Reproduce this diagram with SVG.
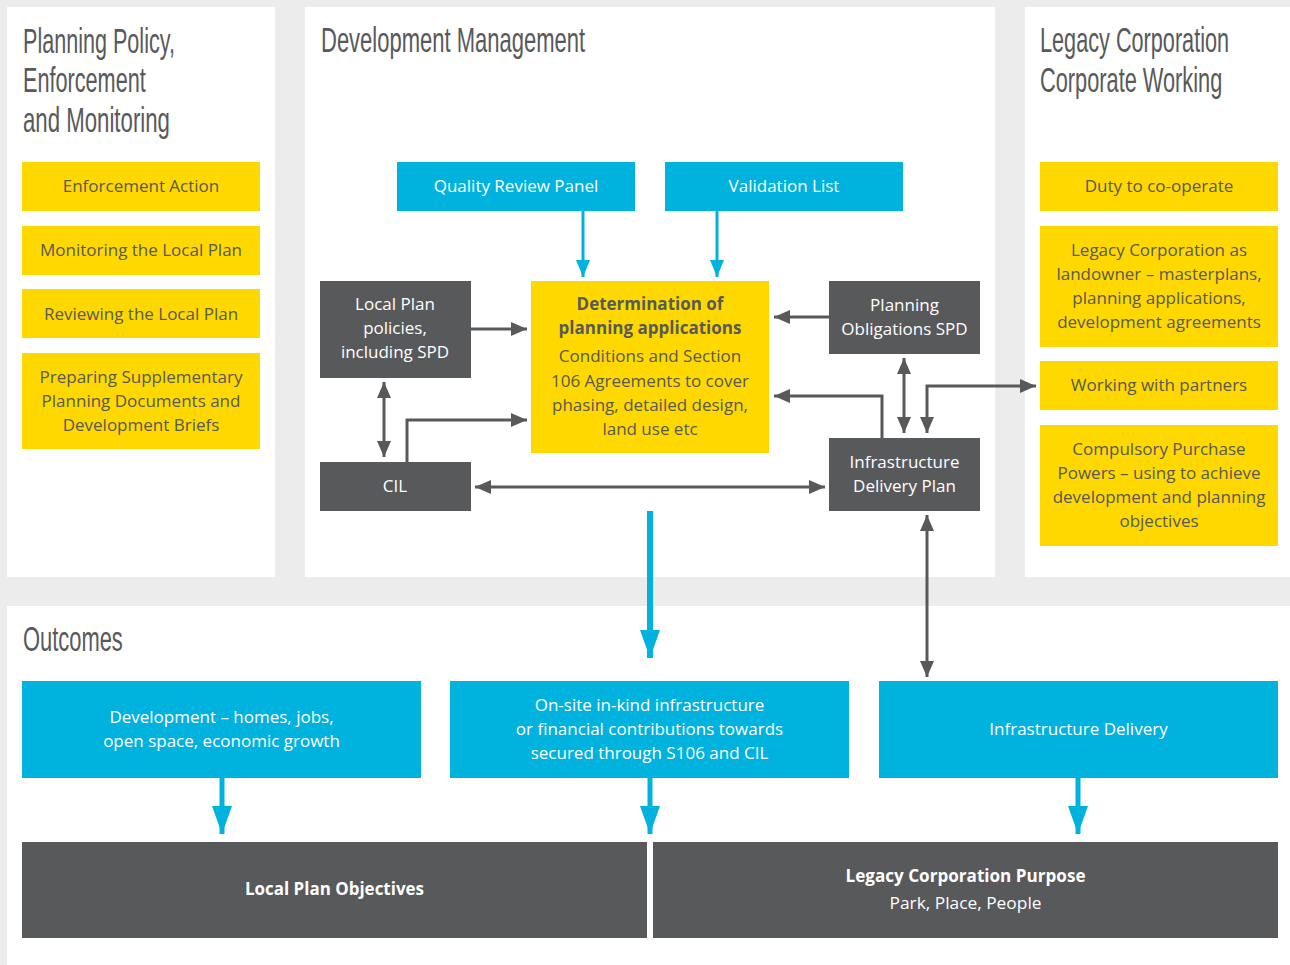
<svg xmlns="http://www.w3.org/2000/svg" width="1290" height="965" viewBox="0 0 1290 965">
<style>
.bg{fill:#ececec}
.panel{fill:#ffffff}
.y{fill:#ffd800}
.c{fill:#00b2de}
.d{fill:#58595b}
.h{font-family:"Liberation Sans",Arial,sans-serif;font-size:35px;fill:#58595b}
.t{font-family:"Open Sans","Noto Sans",sans-serif;font-size:17px;text-anchor:middle}
.ty{fill:#58595b}
.tw{fill:#ffffff}
.b{font-weight:bold}
.ld{fill:none;stroke:#58595b;stroke-width:3}
.lc{fill:none;stroke:#00b2de;stroke-width:3}
</style>
<defs>
<marker id="ah" viewBox="0 0 16 14" refX="16" refY="7" markerWidth="16" markerHeight="14" markerUnits="userSpaceOnUse" orient="auto-start-reverse"><path d="M0,0 L16,7 L0,14 Z" fill="#58595b"/></marker>
<marker id="ahc" viewBox="0 0 17 14" refX="17" refY="7" markerWidth="17" markerHeight="14" markerUnits="userSpaceOnUse" orient="auto"><path d="M0,0 L17,7 L0,14 Z" fill="#00b2de"/></marker>
<marker id="ahcb" viewBox="0 0 28 20" refX="28" refY="10" markerWidth="28" markerHeight="20" markerUnits="userSpaceOnUse" orient="auto"><path d="M0,0 L28,10 L0,20 Z" fill="#00b2de"/></marker>
</defs>
<rect class="bg" x="0" y="0" width="1290" height="965"/>
<g id="panels">
<rect class="panel" x="7" y="7" width="268" height="570"/>
<rect class="panel" x="305" y="7" width="690" height="570"/>
<rect class="panel" x="1025" y="7" width="265" height="570"/>
<rect class="panel" x="7" y="606" width="1283" height="359"/>
</g>
<g id="headings">
<text class="h" transform="translate(23,53) scale(0.62,1)" x="0" y="0" textLength="245" lengthAdjust="spacingAndGlyphs">Planning Policy,</text>
<text class="h" transform="translate(23,92) scale(0.62,1)" x="0" y="0" textLength="198" lengthAdjust="spacingAndGlyphs">Enforcement</text>
<text class="h" transform="translate(23,132) scale(0.62,1)" x="0" y="0" textLength="237" lengthAdjust="spacingAndGlyphs">and Monitoring</text>
<text class="h" transform="translate(321,52) scale(0.62,1)" x="0" y="0" textLength="426" lengthAdjust="spacingAndGlyphs">Development Management</text>
<text class="h" transform="translate(1040,52) scale(0.62,1)" x="0" y="0" textLength="305" lengthAdjust="spacingAndGlyphs">Legacy Corporation</text>
<text class="h" transform="translate(1040,92) scale(0.62,1)" x="0" y="0" textLength="294" lengthAdjust="spacingAndGlyphs">Corporate Working</text>
<text class="h" transform="translate(23,651) scale(0.62,1)" x="0" y="0" textLength="161" lengthAdjust="spacingAndGlyphs">Outcomes</text>
</g>
<g id="n-enforcement"><rect class="y" x="22" y="162" width="238" height="49"/><text class="t ty" x="141" y="192">Enforcement Action</text></g>
<g id="n-monitoring"><rect class="y" x="22" y="226" width="238" height="49"/><text class="t ty" x="141" y="256">Monitoring the Local Plan</text></g>
<g id="n-reviewing"><rect class="y" x="22" y="289" width="238" height="49"/><text class="t ty" x="141" y="320">Reviewing the Local Plan</text></g>
<g id="n-preparing"><rect class="y" x="22" y="353" width="238" height="96"/><text class="t ty" x="141" y="383">Preparing Supplementary</text><text class="t ty" x="141" y="407">Planning Documents and</text><text class="t ty" x="141" y="431">Development Briefs</text></g>
<g id="n-qrp"><rect class="c" x="397" y="162" width="238" height="49"/><text class="t tw" x="516" y="192">Quality Review Panel</text></g>
<g id="n-validation"><rect class="c" x="665" y="162" width="238" height="49"/><text class="t tw" x="784" y="192">Validation List</text></g>
<g id="n-localplan"><rect class="d" x="320" y="281" width="151" height="97"/><text class="t tw" x="395" y="310">Local Plan</text><text class="t tw" x="395" y="334">policies,</text><text class="t tw" x="395" y="358">including SPD</text></g>
<g id="n-determination"><rect class="y" x="531" y="281" width="238" height="172"/><text class="t ty b" x="650" y="310">Determination of</text><text class="t ty b" x="650" y="334">planning applications</text><text class="t ty" x="650" y="362">Conditions and Section</text><text class="t ty" x="650" y="387">106 Agreements to cover</text><text class="t ty" x="650" y="411">phasing, detailed design,</text><text class="t ty" x="650" y="435">land use etc</text></g>
<g id="n-obligations"><rect class="d" x="829" y="281" width="151" height="73"/><text class="t tw" x="904.5" y="311">Planning</text><text class="t tw" x="904.5" y="335">Obligations SPD</text></g>
<g id="n-cil"><rect class="d" x="320" y="462" width="151" height="49"/><text class="t tw" x="395" y="492">CIL</text></g>
<g id="n-idp"><rect class="d" x="829" y="438" width="151" height="73"/><text class="t tw" x="904.5" y="468">Infrastructure</text><text class="t tw" x="904.5" y="492">Delivery Plan</text></g>
<g id="n-duty"><rect class="y" x="1040" y="162" width="238" height="49"/><text class="t ty" x="1159" y="192">Duty to co-operate</text></g>
<g id="n-landowner"><rect class="y" x="1040" y="226" width="238" height="121"/><text class="t ty" x="1159" y="256">Legacy Corporation as</text><text class="t ty" x="1159" y="280">landowner – masterplans,</text><text class="t ty" x="1159" y="304">planning applications,</text><text class="t ty" x="1159" y="328">development agreements</text></g>
<g id="n-partners"><rect class="y" x="1040" y="361" width="238" height="49"/><text class="t ty" x="1159" y="391">Working with partners</text></g>
<g id="n-cpo"><rect class="y" x="1040" y="425" width="238" height="121"/><text class="t ty" x="1159" y="455">Compulsory Purchase</text><text class="t ty" x="1159" y="479">Powers – using to achieve</text><text class="t ty" x="1159" y="503">development and planning</text><text class="t ty" x="1159" y="527">objectives</text></g>
<g id="n-development"><rect class="c" x="22" y="681" width="399" height="97"/><text class="t tw" x="221.5" y="723">Development – homes, jobs,</text><text class="t tw" x="221.5" y="747">open space, economic growth</text></g>
<g id="n-onsite"><rect class="c" x="450" y="681" width="399" height="97"/><text class="t tw" x="649.5" y="711">On-site in-kind infrastructure</text><text class="t tw" x="649.5" y="735">or financial contributions towards</text><text class="t tw" x="649.5" y="759">secured through S106 and CIL</text></g>
<g id="n-infdelivery"><rect class="c" x="879" y="681" width="399" height="97"/><text class="t tw" x="1078.5" y="735">Infrastructure Delivery</text></g>
<g id="n-lpobjectives"><rect class="d" x="22" y="842" width="625" height="96"/><text class="t tw b" x="334.5" y="895" textLength="179" lengthAdjust="spacingAndGlyphs">Local Plan Objectives</text></g>
<g id="n-purpose"><rect class="d" x="653" y="842" width="625" height="96"/><text class="t tw b" x="965.5" y="882" textLength="240" lengthAdjust="spacingAndGlyphs">Legacy Corporation Purpose</text><text class="t tw" x="965.5" y="909" textLength="152" lengthAdjust="spacingAndGlyphs">Park, Place, People</text></g>
<g id="connectors">
<path class="lc" d="M583,211 V277" marker-end="url(#ahc)"/>
<path class="lc" d="M717,211 V277" marker-end="url(#ahc)"/>
<path class="ld" d="M471,329 H527" marker-end="url(#ah)"/>
<path class="ld" d="M829,317 H774" marker-end="url(#ah)"/>
<path class="ld" d="M882,438 V396 H774" marker-end="url(#ah)"/>
<path class="ld" d="M407,462 V420 H527" marker-end="url(#ah)"/>
<path class="ld" d="M384,382 V457" marker-start="url(#ah)" marker-end="url(#ah)"/>
<path class="ld" d="M475,487 H825" marker-start="url(#ah)" marker-end="url(#ah)"/>
<path class="ld" d="M904,358 V433" marker-start="url(#ah)" marker-end="url(#ah)"/>
<path class="ld" d="M927,433 V386 H1036" marker-start="url(#ah)" marker-end="url(#ah)"/>
<path class="ld" d="M927,515 V677" marker-start="url(#ah)" marker-end="url(#ah)"/>
<path d="M650,511 V658" fill="none" stroke="#00b2de" stroke-width="6" marker-end="url(#ahcb)"/>
<path d="M222,778 V834" fill="none" stroke="#00b2de" stroke-width="5" marker-end="url(#ahcb)"/>
<path d="M650,778 V834" fill="none" stroke="#00b2de" stroke-width="5" marker-end="url(#ahcb)"/>
<path d="M1078,778 V834" fill="none" stroke="#00b2de" stroke-width="5" marker-end="url(#ahcb)"/>
</g>
</svg>
